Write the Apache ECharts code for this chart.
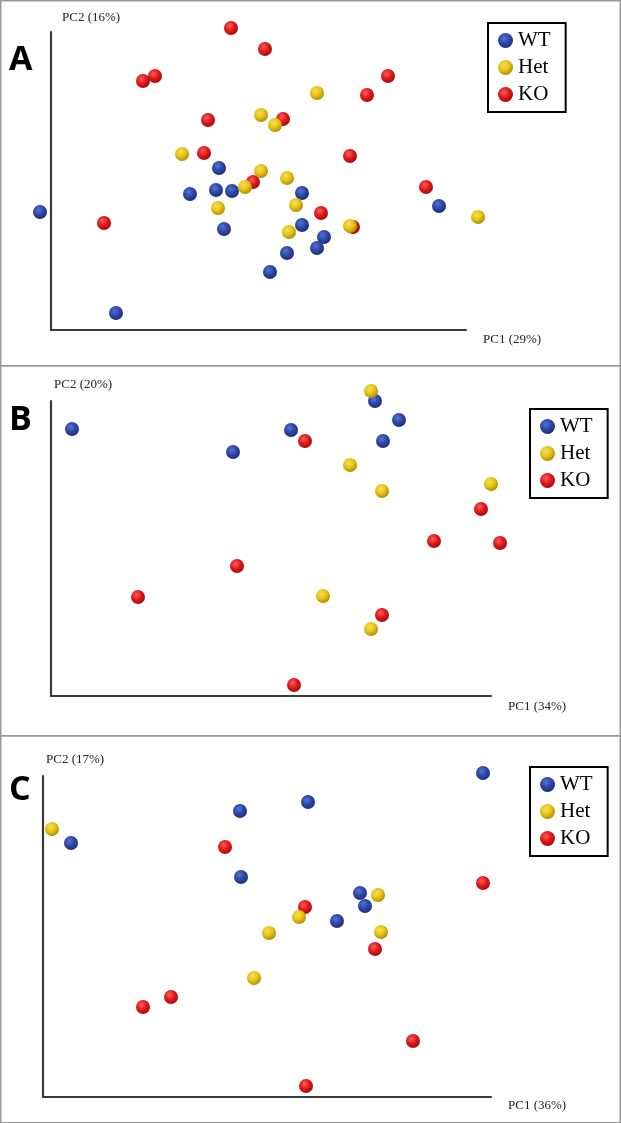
<!DOCTYPE html>
<html><head><meta charset="utf-8">
<script src="https://cdn.jsdelivr.net/npm/echarts@6/dist/echarts.min.js"></script>
<style>html,body{margin:0;padding:0;background:#fff}#c{width:621px;height:1123px}</style>
</head><body><div id="c"></div>
<script>
// ---- data (PC scores, arbitrary units) ----
const groups = ['WT', 'Het', 'KO'];
const panelLetters = ['A', 'B', 'C'];
const pc1Labels = ['PC1 (29%)', 'PC1 (34%)', 'PC1 (36%)'];
const pc2Labels = ['PC2 (16%)', 'PC2 (20%)', 'PC2 (17%)'];
const pc1Max = [415, 440, 448];
const pc2Max = [298, 295, 321];

const wtA = [[168,162],[139,136],[165,140],[181,139],[251,137],[173,101],[251,105],[273,93],[266,82],[236,77],[219,58],[-11,118],[65,17],[388,124]];
const hetA = [[266,237],[210,215],[224,205],[131,176],[210,159],[194,143],[236,152],[167,122],[245,125],[238,98],[299,104],[427,113]];
const koA = [[180,302],[214,281],[92,249],[104,254],[337,254],[316,235],[157,210],[232,211],[153,177],[299,174],[202,148],[375,143],[53,107],[270,117],[302,103]];

const wtB = [[21,267],[182,244],[240,266],[324,295],[348,276],[332,255]];
const hetB = [[320,305],[299,231],[331,205],[440,212],[272,100],[320,67]];
const koB = [[254,255],[430,187],[383,155],[449,153],[186,130],[87,99],[331,81],[243,11]];

const wtC = [[440,324],[265,295],[197,286],[28,254],[198,220],[317,204],[322,191],[294,176]];
const hetC = [[9,268],[335,202],[256,180],[226,164],[338,165],[211,119]];
const koC = [[182,250],[440,214],[262,190],[332,148],[128,100],[100,90],[370,56],[263,11]];

const panelData = [
  {WT: wtA, Het: hetA, KO: koA},
  {WT: wtB, Het: hetB, KO: koB},
  {WT: wtC, Het: hetC, KO: koC}
];

// ---- styling ----
function sphere(hi, mid, lo) {
  return {type: 'radial', x: 0.4, y: 0.35, r: 0.7,
    colorStops: [{offset: 0, color: hi}, {offset: 0.5, color: mid}, {offset: 1, color: lo}]};
}
const groupColor = {
  WT: sphere('#5872d2', '#2d47a8', '#1c2b74'),
  Het: sphere('#f8e05a', '#e6c314', '#a88600'),
  KO: sphere('#ff5f5f', '#e2181b', '#9a0a0c')
};
const drawOrder = ['KO', 'WT', 'Het'];

const grids = [
  {left: 51, top: 32, width: 415, height: 298},
  {left: 51, top: 401, width: 440, height: 295},
  {left: 43, top: 776, width: 448, height: 321}
];
const legendPos = [{left: 488, top: 23}, {left: 530, top: 409}, {left: 530, top: 767}];
const yNamePad = [11, 3, 3];
const yNameGap = [8, 9.5, 9.5];
const xNamePadTop = [3, 4.5, 2.5];
const letterY = [60, 420, 790];
const frames = [[0, 365], [365, 735], [735, 1122]];

const axisLine = {show: true, onZero: false, lineStyle: {color: '#3a3a3a', width: 2.2}};
const serif = 'Liberation Serif';

const xAxes = [], yAxes = [], series = [], legends = [], graphics = [];
for (let p = 0; p < 3; p++) {
  xAxes.push({gridIndex: p, type: 'value', min: 0, max: pc1Max[p],
    axisLine, axisTick: {show: false}, axisLabel: {show: false}, splitLine: {show: false},
    name: pc1Labels[p], nameLocation: 'end', nameGap: 17,
    nameTextStyle: {fontFamily: serif, fontSize: 13, color: '#222', align: 'left', verticalAlign: 'top', padding: [xNamePadTop[p], 0, 0, 0]}});
  yAxes.push({gridIndex: p, type: 'value', min: 0, max: pc2Max[p],
    axisLine, axisTick: {show: false}, axisLabel: {show: false}, splitLine: {show: false},
    name: pc2Labels[p], nameLocation: 'end', nameGap: yNameGap[p],
    nameTextStyle: {fontFamily: serif, fontSize: 13, color: '#222', align: 'left', verticalAlign: 'bottom', padding: [0, 0, 0, yNamePad[p]]}});
  drawOrder.forEach((g, k) => {
    series.push({type: 'scatter', name: g, xAxisIndex: p, yAxisIndex: p,
      data: panelData[p][g], symbol: 'circle', symbolSize: 14, clip: false, z: 2 + k,
      itemStyle: {color: groupColor[g], opacity: 1},
      emphasis: {disabled: true}});
  });
  legends.push({orient: 'vertical', left: legendPos[p].left, top: legendPos[p].top,
    data: groups, selectedMode: false, icon: 'circle', itemWidth: 15, itemHeight: 15, itemGap: 6,
    padding: [7, 15, 7, 10], borderColor: '#000', borderWidth: 2, backgroundColor: '#fff',
    textStyle: {fontFamily: serif, fontSize: 21, lineHeight: 21, color: '#000'}});
  graphics.push({type: 'rect', silent: true, z: -1,
    shape: {x: 0.75, y: frames[p][0] + 0.75, width: 619.5, height: frames[p][1] - frames[p][0]},
    style: {fill: 'none', stroke: '#999', lineWidth: 1.5}});
  graphics.push({type: 'text', silent: true, x: 9, y: letterY[p],
    style: {text: panelLetters[p], fontFamily: 'Open Sans', fontWeight: 'bold', fontSize: 34, fill: '#000', verticalAlign: 'middle'}});
}

const chart = echarts.init(document.getElementById('c'), null, {renderer: 'canvas'});
chart.setOption({
  animation: false,
  backgroundColor: '#fff',
  grid: grids,
  xAxis: xAxes,
  yAxis: yAxes,
  legend: legends,
  graphic: graphics,
  series
});
</script></body></html>
